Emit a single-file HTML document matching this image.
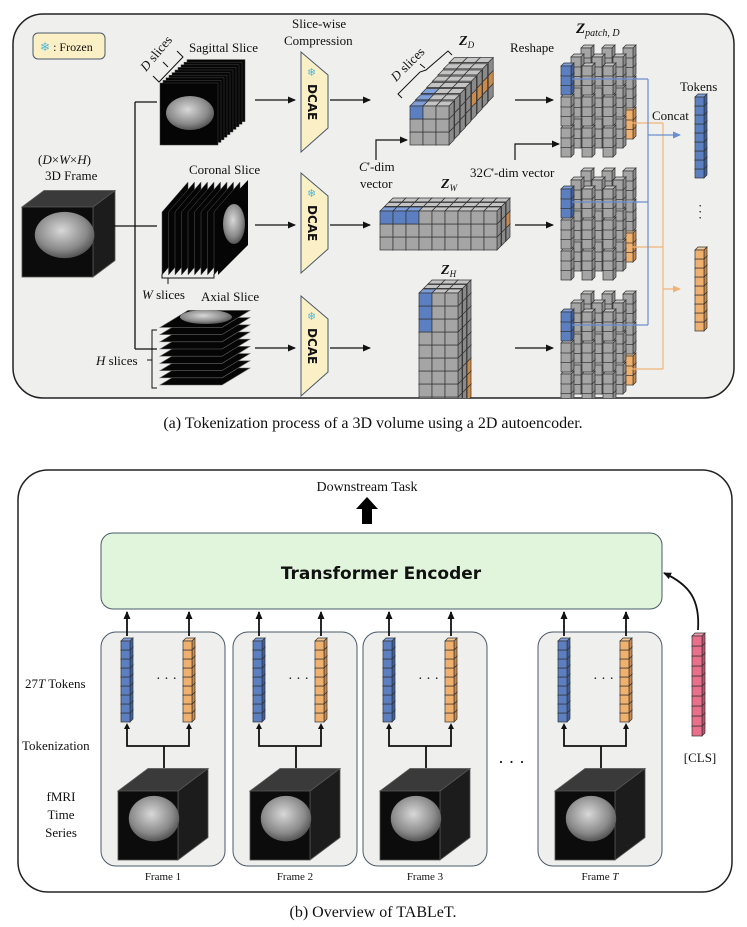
<!DOCTYPE html>
<html><head><meta charset="utf-8">
<style>
html,body{margin:0;padding:0;background:#fff;}
svg{display:block;}
text{font-family:"Liberation Serif",serif;fill:#111;}
.sans{font-family:"DejaVu Sans","Liberation Sans",sans-serif;}
</style></head>
<body>
<svg id="s" width="747" height="927" viewBox="0 0 747 927" xmlns="http://www.w3.org/2000/svg">
<defs>
<radialGradient id="br" cx="45%" cy="40%" r="60%"><stop offset="0" stop-color="#d8d8d8"/><stop offset="0.7" stop-color="#8a8a8a"/><stop offset="1" stop-color="#555"/></radialGradient>
<marker id="ah" markerWidth="8" markerHeight="8" refX="7" refY="4" orient="auto" markerUnits="userSpaceOnUse"><path d="M0,0.5 L8,4 L0,7.5 z" fill="#111"/></marker>
<marker id="ahb" markerWidth="8" markerHeight="8" refX="7" refY="4" orient="auto" markerUnits="userSpaceOnUse"><path d="M0,0.5 L8,4 L0,7.5 z" fill="#6a8ed0"/></marker>
<marker id="aho" markerWidth="8" markerHeight="8" refX="7" refY="4" orient="auto" markerUnits="userSpaceOnUse"><path d="M0,0.5 L8,4 L0,7.5 z" fill="#f0b478"/></marker>
<clipPath id="pc"><rect x="13" y="14" width="721" height="384" rx="30"/></clipPath>
</defs>
<rect x="13" y="14" width="721" height="384" rx="30" fill="#efefee" stroke="#222" stroke-width="1.5"/>
<rect x="18" y="470" width="714" height="422" rx="30" fill="#fff" stroke="#222" stroke-width="1.5"/>
<g id="g"></g>
</svg>
<script>
var o=[];
function P(s){o.push(s);}
function cube(x,y,s,d,f){
 var e='stroke="#333" stroke-width="0.7"';
 var sf=f=='#a5a5a5'?'#8a8a8a':(f=='#5b7fc0'?'#3f5f9c':(f=='#f0b06e'?'#c98a4c':(f=='#e8708a'?'#c0506a':'#8a8a8a')));
 var tf=f=='#a5a5a5'?'#c4c4c4':(f=='#5b7fc0'?'#7f9fd8':(f=='#f0b06e'?'#f6c896':(f=='#e8708a'?'#f09aae':'#c4c4c4')));
 P('<polygon points="'+x+','+y+' '+(x+d)+','+(y-d)+' '+(x+s+d)+','+(y-d)+' '+(x+s)+','+y+'" fill="'+tf+'" '+e+'/>');
 P('<polygon points="'+(x+s)+','+y+' '+(x+s+d)+','+(y-d)+' '+(x+s+d)+','+(y+s-d)+' '+(x+s)+','+(y+s)+'" fill="'+sf+'" '+e+'/>');
 P('<rect x="'+x+'" y="'+y+'" width="'+s+'" height="'+s+'" fill="'+f+'" '+e+'/>');
}
var G='#a5a5a5',B='#5b7fc0',O='#f0b06e',K='#e8708a';
function cuboid(x,y,cols,rows,layers,s,dx,dy,d,colf){
 for(var l=layers-1;l>=0;l--)for(var r=rows-1;r>=0;r--)for(var c=0;c<cols;c++)
  cube(x+c*s+l*dx,y+r*s+l*dy,s,d,colf(l,r,c));
}
function tokens(x,y,n,s,f){for(var i=n-1;i>=0;i--)cube(x,y+i*s,s,3,f);}
function line(x1,y1,x2,y2,st,m,w){P('<line x1="'+x1+'" y1="'+y1+'" x2="'+x2+'" y2="'+y2+'" stroke="'+(st||'#111')+'" stroke-width="'+(w||1.3)+'"'+(m?' marker-end="url(#'+m+')"':'')+'/>');}
function T(x,y,t,sz,ex){P('<text x="'+x+'" y="'+y+'" font-size="'+(sz||13)+'" '+(ex||'')+'>'+t+'</text>');}
function brainCube(x,y,w,h,d){
 P('<polygon points="'+x+','+y+' '+(x+d)+','+(y-d*0.75)+' '+(x+w+d)+','+(y-d*0.75)+' '+(x+w)+','+y+'" fill="#3a3a3a" stroke="#555" stroke-width="0.8"/>');
 P('<polygon points="'+(x+w)+','+y+' '+(x+w+d)+','+(y-d*0.75)+' '+(x+w+d)+','+(y+h-d*0.75)+' '+(x+w)+','+(y+h)+'" fill="#1c1c1c" stroke="#555" stroke-width="0.8"/>');
 P('<rect x="'+x+'" y="'+y+'" width="'+w+'" height="'+h+'" fill="#0c0c0c" stroke="#555" stroke-width="0.8"/>');
 P('<ellipse cx="'+(x+w*0.6)+'" cy="'+(y+h*0.4)+'" rx="'+(w*0.42)+'" ry="'+(h*0.33)+'" fill="url(#br)"/>');
}
P('<rect x="33" y="33" width="72" height="26" rx="5" fill="#fbefc6" stroke="#4a5a6a" stroke-width="1"/>');
T(40,51,'<tspan fill="#4fb8d8">❄</tspan> : Frozen',12);
T(38,164,'(<tspan font-style="italic">D</tspan>×<tspan font-style="italic">W</tspan>×<tspan font-style="italic">H</tspan>)',13);
T(45,180,'3D Frame',13);
brainCube(22,207,71,70,22);
line(114,226,157,226);line(135,102,135,349);line(135,102,157,102);line(135,349,157,349);
for(var i=9;i>=0;i--){P('<rect x="'+(160+i*3)+'" y="'+(83-i*2.6)+'" width="58" height="62" fill="#050505" stroke="#444" stroke-width="0.5"/>');}
P('<ellipse cx="190" cy="113" rx="24" ry="17" fill="url(#br)"/>');
T(189,52,'Sagittal Slice',13);
P('<g transform="translate(146,72) rotate(-50)"><text x="0" y="0" font-size="13"><tspan font-style="italic">D</tspan> slices</text></g>');
P('<path d="M153,76 L159,82 L183,57 L177,51 M168,67 L163,62" fill="none" stroke="#111" stroke-width="1"/>');
for(var i=0;i<9;i++){var x0=162+i*6.5;P('<polygon points="'+x0+','+212+' '+(x0+26)+','+182+' '+(x0+26)+','+245+' '+x0+','+275+'" fill="#050505" stroke="#555" stroke-width="0.5"/>');}
P('<polygon points="218,212 248,180 248,245 218,275" fill="#050505"/>');
P('<ellipse cx="234" cy="224" rx="11" ry="20" fill="url(#br)"/>');
T(189,174,'Coronal Slice',13);
P('<path d="M162,274 L162,278 L214,278 L214,274 M168,278 L168,284" fill="none" stroke="#111" stroke-width="1"/>');
T(142,299,'<tspan font-style="italic">W</tspan> slices',13);
for(var i=8;i>=0;i--){var yb=385-(8-i)*7.2;P('<polygon points="160,'+yb+' 222,'+yb+' 250,'+(yb-17)+' 188,'+(yb-17)+'" fill="#050505" stroke="#666" stroke-width="0.6"/>');}
P('<ellipse cx="206" cy="317" rx="26" ry="7" fill="url(#br)"/>');
T(201,301,'Axial Slice',13);
P('<path d="M157,330 L152,330 L152,388 L157,388 M152,360 L147,360" fill="none" stroke="#111" stroke-width="1"/>');
T(96,365,'<tspan font-style="italic">H</tspan> slices',13);
var ys=[100,225,348];
for(var k=0;k<3;k++){var y=ys[k],off=[0,121,244][k];
 line(255,y,295,y,'#111','ah');line(330,y,370,y,'#111','ah');line(515,y,553,y,'#111','ah');
 P('<polygon points="301,'+(52+off)+' 328,'+(75+off)+' 328,'+(128+off)+' 301,'+(152+off)+'" fill="#fbefc6" stroke="#4a5a6a" stroke-width="1"/>');
 T(307,76+off,'❄',11,'fill="#4fb8d8" style="fill:#4fb8d8"');
 P('<text class="sans" font-size="12" font-weight="bold" transform="translate(308,'+(84+off)+') rotate(90)">DCAE</text>');
}
T(292,28,'Slice-wise',13);T(284,45,'Compression',13);
P('<g clip-path="url(#pc)">');
cuboid(410,106,3,3,8,13,5.6,-6.2,5,function(l,r,c){if(r==0&&c==0&&l<3)return B;if(c==2&&r==1&&l>3)return O;return G;});
cuboid(380,211,9,3,3,13,4.5,-4.5,4,function(l,r,c){if(l==0&&r==0&&c<3)return B;if(l==2&&r==1&&c==8)return O;return G;});
cuboid(419,293,3,9,3,13,4.5,-4.5,4,function(l,r,c){if(l==0&&c==0&&r<3)return B;if(l==2&&c==2&&r>=6)return O;return G;});
P('</g>');
T(459,45,'<tspan font-weight="bold" font-style="italic">Z</tspan><tspan font-size="9" font-style="italic" dy="3">D</tspan>',14);
P('<g transform="translate(396,82) rotate(-45)"><text x="0" y="0" font-size="13"><tspan font-style="italic">D</tspan> slices</text></g>');
P('<path d="M402,98 L398,94 L420,72 L426,70 L448,51 L452,55 M425,68 L420,64" fill="none" stroke="#111" stroke-width="1"/>');
T(441,188,'<tspan font-weight="bold" font-style="italic">Z</tspan><tspan font-size="9" font-style="italic" dy="3">W</tspan>',14);
T(441,274,'<tspan font-weight="bold" font-style="italic">Z</tspan><tspan font-size="9" font-style="italic" dy="3">H</tspan>',14);
P('<path d="M376,160 L376,140 L407,140" fill="none" stroke="#111" stroke-width="1.2" marker-end="url(#ah)"/>');
T(359,171,'<tspan font-style="italic">C</tspan>\'-dim',13);T(360,188,'vector',13);
P('<path d="M515,160 L515,144 L559,144" fill="none" stroke="#111" stroke-width="1.2" marker-end="url(#ah)"/>');
T(470,177,'32<tspan font-style="italic">C</tspan>\'-dim vector',13);
T(510,52,'Reshape',13);
T(576,33,'<tspan font-weight="bold" font-style="italic">Z</tspan><tspan font-size="10" font-style="italic" dy="3">patch, D</tspan>',15);
var bys=[66,189,312];
P('<g clip-path="url(#pc)">');
for(var k=0;k<3;k++){var by=bys[k];
 for(var l=2;l>=0;l--)for(var g=2;g>=0;g--)for(var i=2;i>=0;i--)for(var c=0;c<3;c++){
  var f=G;if(l==0&&c==0&&g==0)f=B;if(l==2&&c==2&&g==2)f=O;
  var yy=by+g*31+i*9.5+l*-9;
  cube(561+c*21+l*10,yy,10,3,f);}
}
P('</g>');
var bl=[79,202,325],ol=[123,247,369];
for(var k=0;k<3;k++){line(572,bl[k],648,bl[k],'#6a8ed0',null,1.2);line(632,ol[k],663,ol[k],'#f0b478',null,1.2);}
line(648,79,648,325,'#6a8ed0',null,1.2);line(663,123,663,369,'#f0b478',null,1.2);
line(648,135,680,135,'#6a8ed0','ahb',1.2);line(663,289,680,289,'#f0b478','aho',1.2);
T(652,120,'Concat',13);T(680,91,'Tokens',13);
tokens(695,97,9,9,B);tokens(695,250,9,9,O);
T(698,210,'·',13);T(698,216,'·',13);T(698,222,'·',13);
T(373,428,'(a) Tokenization process of a 3D volume using a 2D autoencoder.',16,'text-anchor="middle"');
T(367,491,'Downstream Task',14,'text-anchor="middle"');
P('<polygon points="367,497 378,509 372,509 372,524 362,524 362,509 356,509" fill="#000"/>');
P('<rect x="101" y="533" width="561" height="76" rx="12" fill="#e0f5dc" stroke="#4a5a6a" stroke-width="1"/>');
P('<text class="sans" x="381" y="579" font-size="17" font-weight="bold" text-anchor="middle">Transformer Encoder</text>');
var fx=[101,233,363,538],fl=['Frame 1','Frame 2','Frame 3','Frame <tspan font-style="italic">T</tspan>'];
for(var k=0;k<4;k++){var x=fx[k];
 P('<rect x="'+x+'" y="632" width="124" height="234" rx="15" fill="#efefee" stroke="#4a5a6a" stroke-width="1"/>');
 var bx=x+26,ox=x+88;
 tokens(bx-6,641,9,9,B);tokens(ox-6,641,9,9,O);
 line(bx,636,bx,612,'#111','ah',1.8);line(ox,636,ox,612,'#111','ah',1.8);
 P('<path d="M'+(x+63)+',768 L'+(x+63)+',746 L'+bx+',746 L'+bx+',727 M'+(x+63)+',746 L'+ox+',746 L'+ox+',727" fill="none" stroke="#111" stroke-width="1.8"/>');
 P('<polygon points="'+(bx-3)+',729 '+(bx+3)+',729 '+bx+',723" fill="#111"/><polygon points="'+(ox-3)+',729 '+(ox+3)+',729 '+ox+',723" fill="#111"/>');
 T(x+55,683,'· · ·',14);
 brainCube(x+17,791,60,69,30);
 T(x+62,880,fl[k],11,'text-anchor="middle"');
}
T(498,768,'·  ·  ·',18);
T(25,688,'27<tspan font-style="italic">T</tspan> Tokens',13);
T(22,750,'Tokenization',13);
T(61,801,'fMRI',13,'text-anchor="middle"');T(61,819,'Time',13,'text-anchor="middle"');T(61,837,'Series',13,'text-anchor="middle"');
tokens(692,636,10,10,K);
P('<path d="M698,630 C700,600 690,585 664,573" fill="none" stroke="#111" stroke-width="1.8" marker-end="url(#ah)"/>');
T(700,762,'[CLS]',13,'text-anchor="middle"');
T(373,917,'(b) Overview of TABLeT.',16,'text-anchor="middle"');
document.getElementById('g').innerHTML=o.join('');
</script>
</body></html>
